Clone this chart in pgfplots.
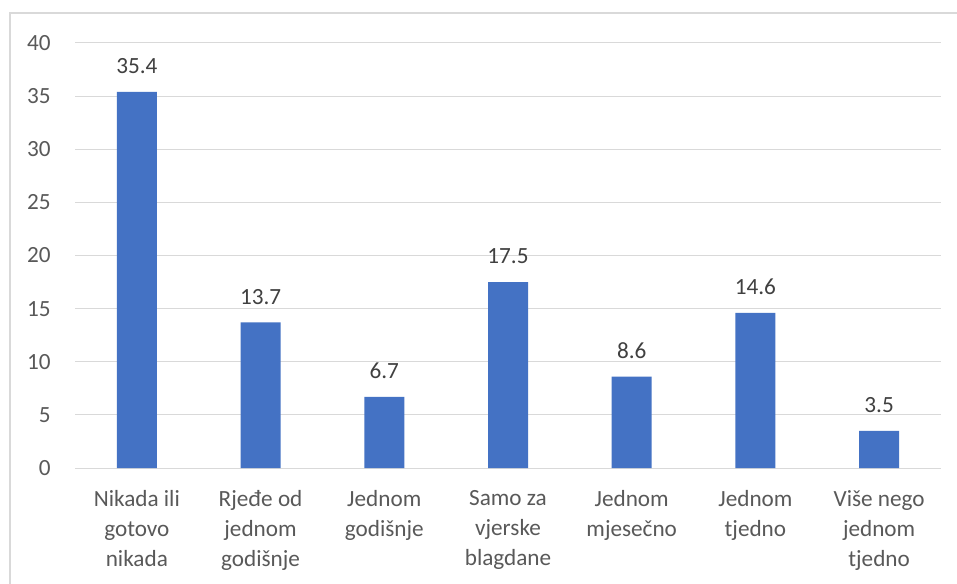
\documentclass[border=0pt]{standalone}
\usepackage{pgfplots}
\pgfplotsset{compat=1.18}
\usepackage{fontspec}
\setmainfont{Carlito}
\definecolor{barblue}{HTML}{4472C4}
\definecolor{gridgray}{HTML}{D9D9D9}
\definecolor{ticktext}{HTML}{595959}
\definecolor{labeltext}{HTML}{404040}
\begin{document}
\begin{tikzpicture}
\useasboundingbox (0,0) rectangle (717.75pt,437.25pt);
\fill[white] (0,0) rectangle (717.75pt,437.25pt);
\draw[gridgray, line width=0.9pt] (7.5pt,-2pt) -- (7.5pt,427.5pt) -- (720pt,427.5pt);
\begin{axis}[
  at={(56.25pt,86.25pt)}, anchor=south west,
  scale only axis,
  width=649.5pt, height=318.75pt,
  xmin=-0.5, xmax=6.5,
  ymin=0, ymax=40,
  ytick={0,5,...,40},
  xtick={0,...,6},
  xticklabels={{Nikada ili\\gotovo\\nikada},{Rjeđe od\\jednom\\godišnje},{Jednom\\godišnje},{Samo za\\vjerske\\blagdane},{Jednom\\mjesečno},{Jednom\\tjedno},{Više nego\\jednom\\tjedno}},
  axis line style={draw=none},
  major tick length=0pt,
  ymajorgrids,
  grid style={gridgray, line width=0.75pt},
  /pgf/number format/assume math mode=true,
  yticklabel style={anchor=east, inner sep=0pt, xshift=-18pt, font=\fontsize{17.4}{20}\selectfont, text=ticktext},
  xticklabel style={anchor=north, inner sep=0pt, yshift=-16.5pt, align=center, font=\fontsize{17.4}{22.5}\selectfont, text=ticktext},
  ybar, bar width=30pt,
  nodes near coords,
  nodes near coords style={anchor=base, inner sep=0pt, yshift=13.7pt, font=\fontsize{17.4}{20}\selectfont, text=labeltext, /pgf/number format/fixed, /pgf/number format/precision=1, /pgf/number format/fixed zerofill},
  clip=false,
]
\draw[gridgray, line width=0.75pt] (axis cs:-0.5,0) -- (axis cs:6.5,0);
\addplot[fill=barblue, draw=none] coordinates {(0,35.4) (1,13.7) (2,6.7) (3,17.5) (4,8.6) (5,14.6) (6,3.5)};
\end{axis}
\end{tikzpicture}
\end{document}
